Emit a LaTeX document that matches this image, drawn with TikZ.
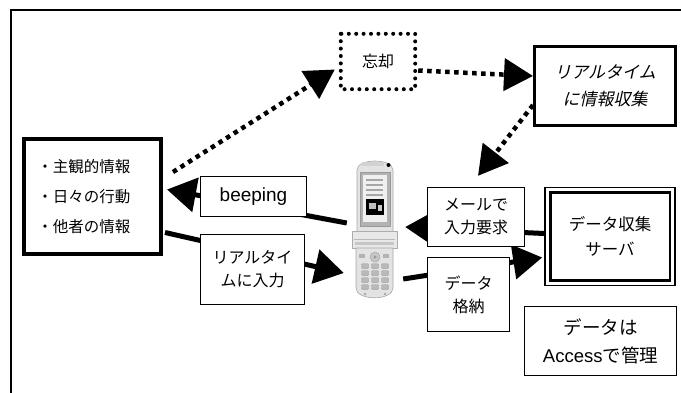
\documentclass[tikz,border=0pt]{standalone}
\usepackage{fontspec}
\setmainfont{Liberation Sans}
\newfontfamily\jp{Noto Sans CJK JP}
\newfontfamily\jpit[FakeSlant=0.22]{Noto Sans CJK JP}
\newfontfamily\lat{Liberation Sans}
\usetikzlibrary{arrows.meta,backgrounds}

\begin{document}
\begin{tikzpicture}[x=1pt,y=-1pt,
  box/.style={draw, fill=white, line width=1.4pt, align=center, inner sep=0pt,
    font=\jp\fontsize{16}{23}\selectfont},
  heavybox/.style={box, line width=4pt},
  dotflow/.style={line width=4.5pt, dash pattern=on 4.5pt off 4.5pt,
    -{Triangle[length=29pt,width=32pt]}},
  flow/.style={line width=5pt, -{Triangle[length=29pt,width=34pt]}},
  keycap/.style={fill=gray!55, draw=gray!75, line width=0.4pt, rounded corners=0.8pt}
]
\useasboundingbox (0,0) rectangle (681,392);
\clip (0,0) rectangle (681,392);

% outer frame (runs past the right and bottom edges)
\draw[line width=2pt] (11,10) rectangle (720,430);

% ---------- boxes ----------
\node[heavybox, minimum width=137pt, minimum height=115pt, align=left, text width=110pt,
      font=\jp\fontsize{15.5}{30}\selectfont] (info) at (92.5,196.5)
  {・主観的情報\\・日々の行動\\・他者の情報};

\node[draw=none, minimum width=74pt, minimum height=55pt, inner sep=0pt,
      font=\jp\fontsize{16}{20}\selectfont] (forget) at (378,61.5) {忘却};
\draw[line width=4pt, line cap=round, dash pattern=on 0pt off 7.4pt]
  (forget.north west) rectangle (forget.south east);

\node[box, line width=3pt, minimum width=141pt, minimum height=79pt,
      font=\jpit\fontsize{17}{27}\selectfont] (rt) at (605,86)
  {リアルタイム\\に情報収集};

\node[box, minimum width=106pt, minimum height=40pt,
      font=\lat\fontsize{19}{22}\selectfont] (beep) at (253.5,196.5) {beeping};

\node[box, minimum width=104pt, minimum height=70pt] (rtin) at (252.5,269.5)
  {リアルタイ\\ムに入力};

\node[box, minimum width=97pt, minimum height=59pt] (mail) at (476,217)
  {メールで\\入力要求};

\node[box, minimum width=82pt, minimum height=74pt] (store) at (468.5,294.5)
  {データ\\格納};

\node[box, line width=1.6pt, minimum width=130pt, minimum height=98pt,
      font=\jp\fontsize{16.5}{25}\selectfont] (server) at (610,236.5)
  {データ収集\\サーバ};
\draw[line width=2.6pt] ([xshift=6pt,yshift=-6pt]server.north west)
  rectangle ([xshift=-6pt,yshift=6pt]server.south east);

\node[box, minimum width=152pt, minimum height=69pt,
      font=\jp\fontsize{18.5}{28}\selectfont] (access) at (600.5,341)
  {データは\\{\lat Access}で管理};

% ---------- flip phone ----------
\node[minimum width=44pt, minimum height=140pt, inner sep=0pt] (phone) at (375,229) {};
% upper half
\draw[fill=gray!22, draw=gray!70, line width=0.6pt]
  (357,232) -- (357,170) .. controls (357,158) and (393,158) .. (393,170) -- (393,232) -- cycle;
\fill[black] (388.5,165) circle (2pt);
\fill[gray!35] (362,162) rectangle (384,166);
\draw[fill=gray!60, draw=gray!80, line width=0.5pt] (360,172) rectangle (390,226);
\fill[gray!12] (363,175) rectangle (387,222);
\foreach \yy in {179,184,189,194}
  \fill[gray!70] (366,\yy) rectangle (383,\yy+1.6);
\fill[black] (366,199) rectangle (384,215);
\fill[gray!50] (369,203) rectangle (376,209);
\fill[gray!40] (378,205) rectangle (382,211);
% hinge
\draw[fill=gray!18, draw=gray!65, line width=0.6pt] (352,231) rectangle (397,248);
\draw[gray!55, line width=0.5pt] (354,239) -- (395,239);
\fill[gray!45] (355,242) rectangle (394,245);
% lower half
\draw[fill=gray!22, draw=gray!70, line width=0.6pt]
  (356,248) -- (356,288) .. controls (356,301) and (393,301) .. (393,288) -- (393,248) -- cycle;
\draw[fill=gray!45, draw=gray!70, line width=0.5pt] (375,257) circle (5pt);
\fill[gray!80] (375,257) circle (1.6pt);
\foreach \kx in {362,386} \fill[gray!60] (\kx-3,254) rectangle (\kx+3,258);
\foreach \ky in {266,273,280,287}
  \foreach \kx in {365,375,385}
    \draw[keycap] (\kx-3.5,\ky-2.3) rectangle (\kx+3.5,\ky+2.3);
\fill[gray!70] (365,294) circle (1.3pt);
\fill[gray!70] (385,294) circle (1.3pt);

% ---------- connectors ----------
\begin{pgfonlayer}{background}
\draw[dotflow] ([xshift=10pt,yshift=-35pt]info.north east)
  -- ([xshift=-6pt,yshift=-8pt]forget.west);
\draw[dotflow] ([xshift=3pt,yshift=-9pt]forget.east)
  -- ([yshift=10pt]rt.west);
\draw[dotflow] ([yshift=-19pt]rt.west)
  -- ([xshift=2pt,yshift=11pt]mail.north);

\draw[flow] ([xshift=-6pt,yshift=6pt]phone.west)
  -- ([xshift=4pt,yshift=7pt]info.east);
\draw[flow] ([xshift=2pt,yshift=-36pt]info.east)
  -- ([xshift=-9pt,yshift=-44pt]phone.west);
\draw[flow] ([yshift=3pt]server.west)
  -- ([xshift=8pt,yshift=2pt]phone.east);
\draw[flow] ([xshift=6pt,yshift=-50pt]phone.east)
  -- ([xshift=-2pt,yshift=-21pt]server.west);
\end{pgfonlayer}
\end{tikzpicture}
\end{document}
